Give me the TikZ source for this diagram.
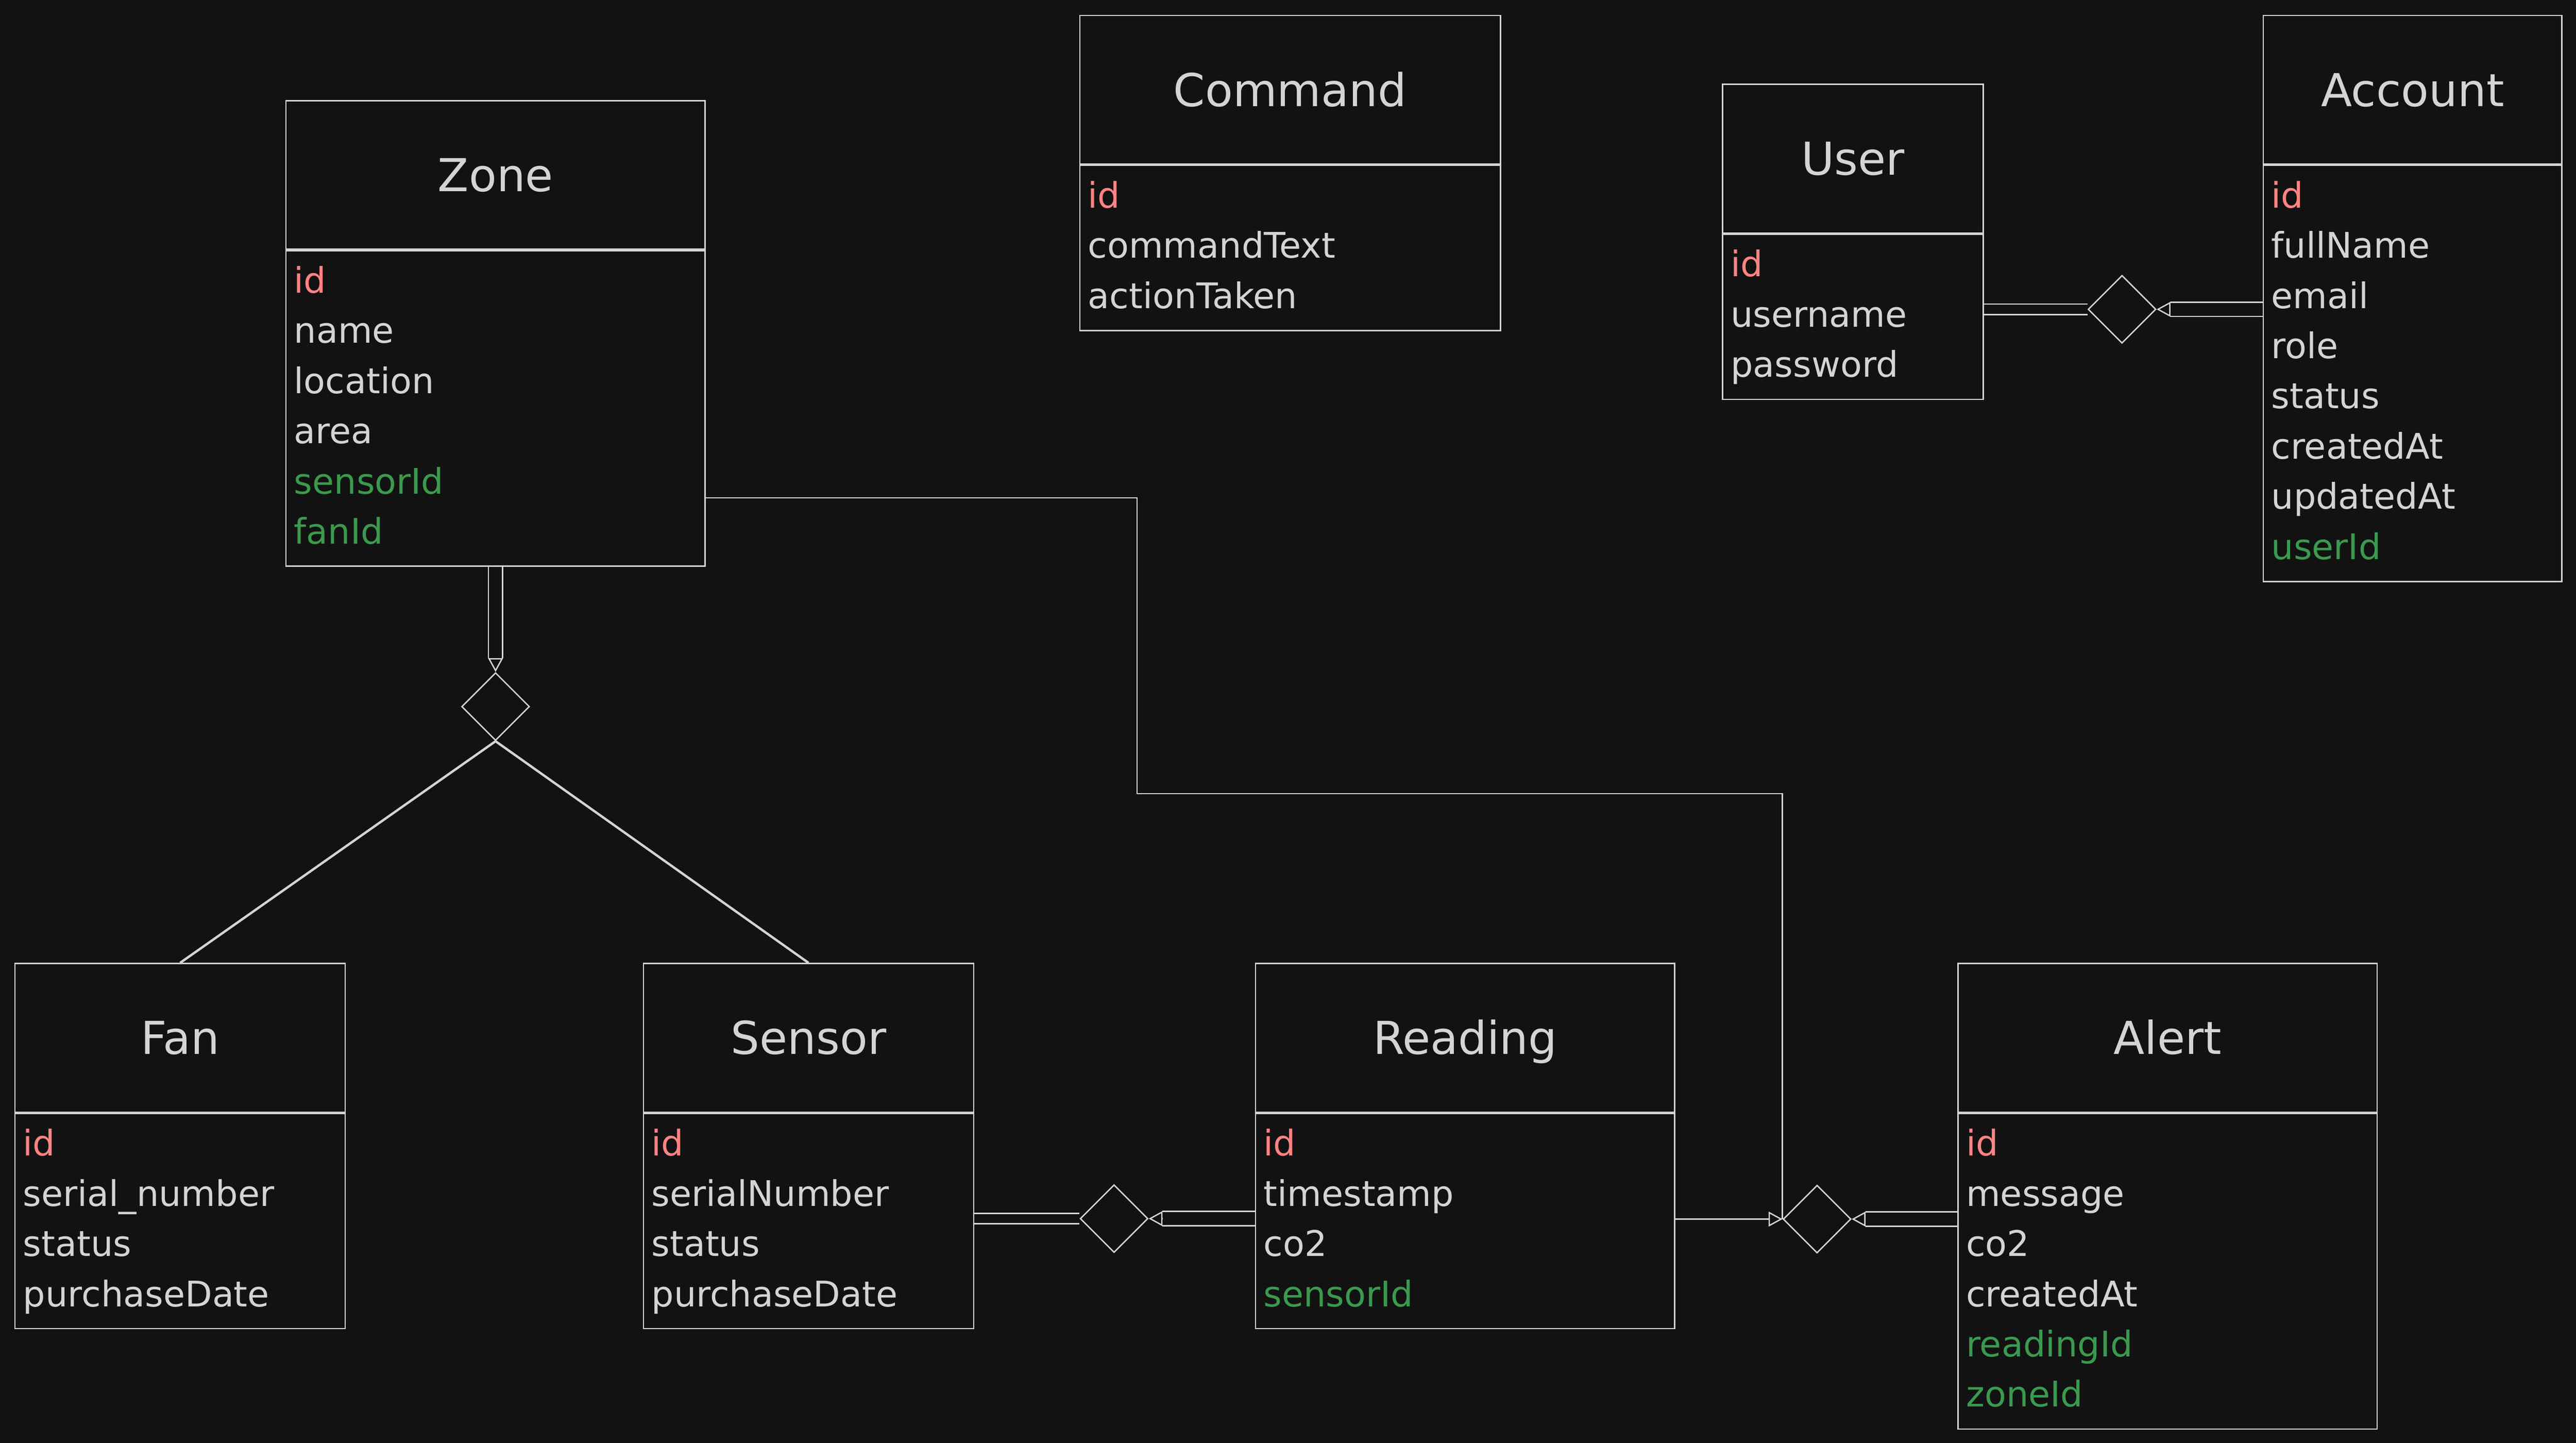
\documentclass[tikz,border=0pt]{standalone}
\usepackage{fontspec}
\setmainfont{DejaVu Sans}
\usetikzlibrary{positioning}
\usetikzlibrary{shapes.geometric}
\usetikzlibrary{arrows.meta}
\definecolor{bg}{RGB}{18,18,18}
\definecolor{ink}{RGB}{212,212,212}
\definecolor{pkred}{RGB}{255,131,131}
\definecolor{fkgreen}{RGB}{58,154,78}
\newcommand{\keyid}[1]{\textcolor{pkred}{#1}}
\newcommand{\refid}[1]{\textcolor{fkgreen}{#1}}

\begin{document}
\begin{tikzpicture}[line width=0.8pt, color=ink,
  entity/.style={draw=ink, fill=bg, minimum width=#1, minimum height=3.11cm, inner sep=0pt,
    text height=0.69cm, text depth=0pt, font=\fontsize{27pt}{32pt}\selectfont},
  fields/.style={draw=ink, fill=bg, text width=#1, inner xsep=0.17cm, inner ysep=0pt, align=left,
    font=\fontsize{21pt}{1.05cm}\selectfont, execute at begin node=\strut, execute at end node=\strut},
  rel/.style={diamond, aspect=1, draw=ink, fill=bg, minimum width=1.42cm, minimum height=1.42cm, inner sep=0pt},
  link/.style={draw=ink, double=bg, double distance=0.19cm},
  fklink/.style={draw=ink, double=bg, double distance=0.27cm, shorten >=0.29cm},
  tip/.style={draw=ink, -{Triangle[open, length=0.29cm, width=0.31cm]}},
  branch/.style={draw=ink, line width=1.4pt}]

  \path[use as bounding box, fill=bg] (0,0) rectangle (53.90,-30.18);

  % top row
  \node[entity=8.77cm, anchor=north west] (zone) at (5.97,-2.09) {Zone};
  \node[fields=8.43cm, minimum height=6.60cm, below=0pt of zone] (zoneA)
    {\keyid{id}\\name\\location\\area\\\refid{sensorId}\\\refid{fanId}};
  \node[entity=8.80cm, anchor=north west] (command) at (22.58,-0.31) {Command};
  \node[fields=8.46cm, minimum height=3.45cm, below=0pt of command] (commandA)
    {\keyid{id}\\commandText\\actionTaken};
  \node[entity=5.45cm, anchor=north west] (user) at (36.03,-1.75) {User};
  \node[fields=5.11cm, minimum height=3.45cm, below=0pt of user] (userA)
    {\keyid{id}\\username\\password};
  \node[entity=6.25cm, anchor=north west] (account) at (47.34,-0.31) {Account};
  \node[fields=5.91cm, minimum height=8.70cm, below=0pt of account] (accountA)
    {\keyid{id}\\fullName\\email\\role\\status\\createdAt\\updatedAt\\\refid{userId}};

  % bottom row
  \node[entity=6.91cm, anchor=north west] (fan) at (0.30,-20.14) {Fan};
  \node[fields=6.57cm, minimum height=4.50cm, below=0pt of fan] (fanA)
    {\keyid{id}\\serial\_number\\status\\purchaseDate};
  \node[entity=6.91cm, right=6.21cm of fan] (sensor) {Sensor};
  \node[fields=6.57cm, minimum height=4.50cm, below=0pt of sensor] (sensorA)
    {\keyid{id}\\serialNumber\\status\\purchaseDate};
  \node[entity=8.77cm, right=5.87cm of sensor] (reading) {Reading};
  \node[fields=8.43cm, minimum height=4.50cm, below=0pt of reading] (readingA)
    {\keyid{id}\\timestamp\\co2\\\refid{sensorId}};
  \node[entity=8.77cm, right=5.90cm of reading] (alert) {Alert};
  \node[fields=8.43cm, minimum height=6.60cm, below=0pt of alert] (alertA)
    {\keyid{id}\\message\\co2\\createdAt\\\refid{readingId}\\\refid{zoneId}};

  % relations
  \node[rel] (r1) at (44.40,-6.47) {};
  \node[rel, below=2.2cm of zoneA] (r2) {};
  \node[rel] (r3) at (23.31,-25.49) {};
  \node[rel] (r4) at (38.02,-25.50) {};

  % user -- account
  \draw[link] (userA.east |- r1) -- (r1.west);
  \draw[fklink] (accountA.west |- r1) -- (r1.east);
  \draw[tip] ([xshift=0.29cm]r1.east) -- (r1.east);

  % zone -- fan, sensor
  \draw[fklink] (zoneA.south) -- (r2.north);
  \draw[tip] ([yshift=0.29cm]r2.north) -- (r2.north);
  \draw[branch] (r2.south) -- (fan.north);
  \draw[branch] (r2.south) -- (sensor.north);

  % sensor -- reading
  \draw[link] (sensorA.east |- r3) -- (r3.west);
  \draw[fklink] (readingA.west |- r3) -- (r3.east);
  \draw[tip] ([xshift=0.29cm]r3.east) -- (r3.east);

  % reading, zone -- alert
  \draw[tip] (readingA.east |- r4) -- (r4.west);
  \draw[fklink] (alertA.west |- r4) -- (r4.east);
  \draw[tip] ([xshift=0.29cm]r4.east) -- (r4.east);
  \coordinate (bend) at (23.79,-16.60);
  \draw ([yshift=-1.87cm]zoneA.east) -| (bend) -| (r4.west);
\end{tikzpicture}
\end{document}
